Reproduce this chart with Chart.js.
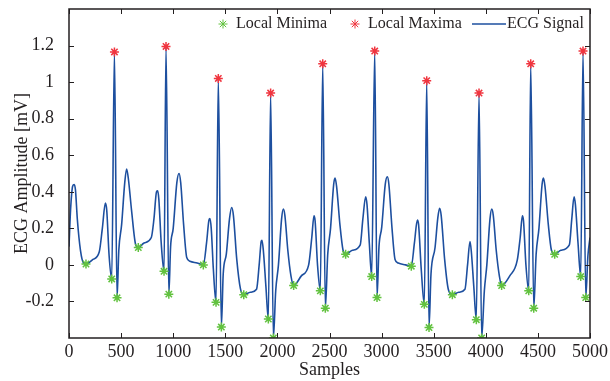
<!DOCTYPE html>
<html>
<head>
<meta charset="utf-8">
<script src="https://cdn.jsdelivr.net/npm/chart.js@4"></script>
<style>
    html, body { margin: 0; padding: 0; background: #fff; }
</style>
</head>
<body>
<canvas id="ecg-chart" width="610" height="381"></canvas>
<script>
// ─── Data ───────────────────────────────────

const sigX = [
    0, 15, 35, 50, 62, 80, 110, 140, 163,
    230, 290, 320, 349, 362, 385, 410, 436, 461,
    478, 505, 535, 553, 570, 600, 640, 665,
    720, 790, 815, 840, 851, 862, 885, 912, 931, 958,
    975, 1000, 1035, 1056, 1072, 1100, 1130, 1160, 1230, 1289,
    1320, 1343, 1353, 1365, 1385, 1411, 1433, 1462,
    1480, 1510, 1540, 1561, 1578, 1610, 1645, 1677,
    1740, 1800, 1825, 1845, 1852, 1865, 1890, 1913, 1935, 1961,
    1984, 2010, 2040, 2057, 2072, 2100, 2130, 2156,
    2230, 2300, 2330, 2351, 2362, 2385, 2412, 2435, 2460,
    2483, 2510, 2540, 2553, 2568, 2600, 2630, 2655,
    2720, 2795, 2820, 2847, 2860, 2882, 2905, 2934, 2956,
    2975, 3001, 3035, 3055, 3070, 3100, 3129, 3160, 3230, 3285,
    3315, 3343, 3355, 3380, 3410, 3433, 3455,
    3474, 3513, 3540, 3557, 3572, 3605, 3640, 3679,
    3740, 3800, 3825, 3848, 3860, 3885, 3909, 3935, 3960,
    3986, 4010, 4040, 4057, 4072, 4100, 4130, 4152,
    4230, 4302, 4330, 4351, 4362, 4385, 4412, 4431, 4460,
    4483, 4510, 4540, 4553, 4568, 4600, 4630, 4661,
    4720, 4802, 4825, 4847, 4860, 4885, 4911, 4933, 4959,
    4980, 5000
];
const sigY = [
    0.10, 0.30, 0.43, 0.44, 0.41, 0.25, 0.08, 0.01, 0.005,
    0.03, 0.07, 0.20, 0.338, 0.30, 0.05, -0.077, 1.165, -0.18,
    0.08, 0.22, 0.45, 0.525, 0.47, 0.30, 0.11, 0.095,
    0.12, 0.15, 0.25, 0.40, 0.405, 0.36, 0.12, -0.035, 1.195, -0.16,
    0.10, 0.20, 0.45, 0.50, 0.45, 0.22, 0.04, 0.02, 0.01, 0.0,
    0.12, 0.245, 0.254, 0.20, -0.02, -0.205, 1.02, -0.34,
    -0.05, 0.06, 0.25, 0.314, 0.27, 0.03, -0.13, -0.163,
    -0.15, -0.133, 0.0, 0.13, 0.135, 0.08, -0.12, -0.296, 0.94, -0.40,
    -0.14, 0.0, 0.25, 0.305, 0.27, 0.08, -0.06, -0.113,
    -0.06, 0.0, 0.15, 0.268, 0.24, 0.0, -0.142, 1.10, -0.237,
    0.058, 0.20, 0.44, 0.475, 0.43, 0.22, 0.08, 0.058,
    0.08, 0.11, 0.25, 0.373, 0.33, 0.12, -0.064, 1.17, -0.179,
    0.10, 0.205, 0.44, 0.482, 0.44, 0.20, 0.03, 0.01, 0.0, -0.007,
    0.12, 0.245, 0.22, -0.02, -0.216, 1.008, -0.343,
    -0.05, 0.095, 0.26, 0.31, 0.27, 0.03, -0.133, -0.163,
    -0.15, -0.133, 0.0, 0.128, 0.08, -0.12, -0.30, 0.94, -0.40,
    -0.142, 0.0, 0.25, 0.305, 0.27, 0.08, -0.06, -0.113,
    -0.06, 0.026, 0.15, 0.268, 0.24, 0.0, -0.142, 1.10, -0.237,
    0.058, 0.20, 0.44, 0.475, 0.43, 0.22, 0.08, 0.058,
    0.08, 0.11, 0.25, 0.373, 0.33, 0.12, -0.064, 1.17, -0.179,
    0.05, 0.15
];

const minX = [163, 410, 461, 665, 912, 958, 1289, 1411, 1462, 1677, 1913, 1961, 2156, 2412, 2460,
              2655, 2905, 2956, 3285, 3410, 3455, 3679, 3909, 3960, 4152, 4412, 4460, 4661, 4911, 4959];
const minY = [0.005, -0.077, -0.18, 0.095, -0.035, -0.16, 0.0, -0.205, -0.34, -0.163, -0.296, -0.40, -0.113, -0.142, -0.237,
              0.058, -0.064, -0.179, -0.007, -0.216, -0.343, -0.163, -0.30, -0.40, -0.113, -0.142, -0.237, 0.058, -0.064, -0.179];

const maxX = [436, 931, 1433, 1935, 2435, 2934, 3433, 3935, 4431, 4933];
const maxY = [1.165, 1.195, 1.02, 0.94, 1.10, 1.17, 1.008, 0.94, 1.10, 1.17];

const xTicks = [0, 500, 1000, 1500, 2000, 2500, 3000, 3500, 4000, 4500, 5000];
const yTicks = [-0.2, 0, 0.2, 0.4, 0.6, 0.8, 1, 1.2];

const INK      = '#231f20';
const BLUE     = '#1d4f9f';
const GREEN    = '#62c23f';
const RED      = '#f0353f';
const FONT     = "'Liberation Serif', 'DejaVu Serif', serif";

const toPoints = (xs, ys) => xs.map((x, i) => ({ x, y: ys[i] }));

// ─── Plugins ────────────────────────────────

const framePlugin = {
    id: 'frame',
    afterDatasetsDraw(chart) {
        const { ctx, chartArea: a, scales: { x, y } } = chart;
        ctx.save();
        ctx.strokeStyle = INK;
        ctx.lineWidth = 1;
        ctx.beginPath();
        xTicks.forEach(v => {
            const px = Math.round(x.getPixelForValue(v)) + 0.5;
            ctx.moveTo(px, a.bottom); ctx.lineTo(px, a.bottom - 5);
            ctx.moveTo(px, a.top);    ctx.lineTo(px, a.top + 5);
        });
        yTicks.forEach(v => {
            const py = Math.round(y.getPixelForValue(v)) + 0.5;
            ctx.moveTo(a.left, py);  ctx.lineTo(a.left + 5, py);
            ctx.moveTo(a.right, py); ctx.lineTo(a.right - 5, py);
        });
        ctx.stroke();
        ctx.lineWidth = 1.5;
        ctx.strokeRect(a.left, a.top, a.right - a.left, a.bottom - a.top);
        ctx.restore();
    }
};

const legendPlugin = {
    id: 'ecgLegend',
    afterDraw(chart) {
        const { ctx } = chart;
        const ly = 24;
        const star = { pointStyle: 'star', radius: 4.5, borderWidth: 1.5, rotation: 0 };
        ctx.save();
        ctx.font = `16px ${FONT}`;
        ctx.textBaseline = 'middle';

        ctx.strokeStyle = GREEN; ctx.fillStyle = GREEN;
        Chart.helpers.drawPoint(ctx, star, 223, ly);
        ctx.strokeStyle = RED; ctx.fillStyle = RED;
        Chart.helpers.drawPoint(ctx, star, 355, ly);

        ctx.strokeStyle = BLUE;
        ctx.lineWidth = 1.6;
        ctx.beginPath(); ctx.moveTo(472, ly); ctx.lineTo(506, ly); ctx.stroke();

        ctx.fillStyle = INK;
        ctx.fillText('Local Minima', 236, ly);
        ctx.fillText('Local Maxima', 368, ly);
        ctx.fillText('ECG Signal', 507, ly);
        ctx.restore();
    }
};

// ─── Chart ──────────────────────────────────

new Chart(document.getElementById('ecg-chart').getContext('2d'), {
    type: 'line',
    data: {
        datasets: [
            {
                label: 'Local Minima',
                data: toPoints(minX, minY),
                showLine: false,
                pointStyle: 'star',
                pointRadius: 4.5,
                pointBorderWidth: 1.5,
                pointBorderColor: GREEN,
                pointBackgroundColor: GREEN,
                order: 0
            },
            {
                label: 'Local Maxima',
                data: toPoints(maxX, maxY),
                showLine: false,
                pointStyle: 'star',
                pointRadius: 4.5,
                pointBorderWidth: 1.5,
                pointBorderColor: RED,
                pointBackgroundColor: RED,
                order: 0
            },
            {
                label: 'ECG Signal',
                data: toPoints(sigX, sigY),
                borderColor: BLUE,
                borderWidth: 1.6,
                pointRadius: 0,
                fill: false,
                cubicInterpolationMode: 'monotone',
                order: 1
            }
        ]
    },
    options: {
        responsive: false,
        animation: false,
        events: [],
        layout: { padding: { left: 0, right: 20, top: 9, bottom: 0 } },
        plugins: { legend: { display: false }, tooltip: { enabled: false } },
        scales: {
            x: {
                type: 'linear',
                min: 0,
                max: 5000,
                grid: { display: false },
                border: { display: false },
                afterBuildTicks: s => { s.ticks = xTicks.map(value => ({ value })); },
                afterFit: s => { s.height = 43; s.paddingLeft = 0; s.paddingRight = 0; },
                ticks: {
                    color: INK,
                    padding: -5,
                    maxRotation: 0,
                    font: { family: FONT, size: 18 },
                    callback: v => String(v)
                },
                title: {
                    display: true,
                    text: 'Samples',
                    color: INK,
                    padding: { top: 0, bottom: 0 },
                    font: { family: FONT, size: 18 }
                }
            },
            y: {
                type: 'linear',
                min: -0.4,
                max: 1.4,
                grid: { display: false },
                border: { display: false },
                afterBuildTicks: s => { s.ticks = yTicks.map(value => ({ value })); },
                afterFit: s => { s.width = 69; s.paddingTop = 0; s.paddingBottom = 0; },
                ticks: {
                    color: INK,
                    padding: 7,
                    font: { family: FONT, size: 18 },
                    callback: v => String(+v.toFixed(1))
                },
                title: {
                    display: true,
                    text: 'ECG Amplitude [mV]',
                    color: INK,
                    padding: { top: 11, bottom: 0 },
                    font: { family: FONT, size: 18 }
                }
            }
        }
    },
    plugins: [framePlugin, legendPlugin]
});
</script>
</body>
</html>
